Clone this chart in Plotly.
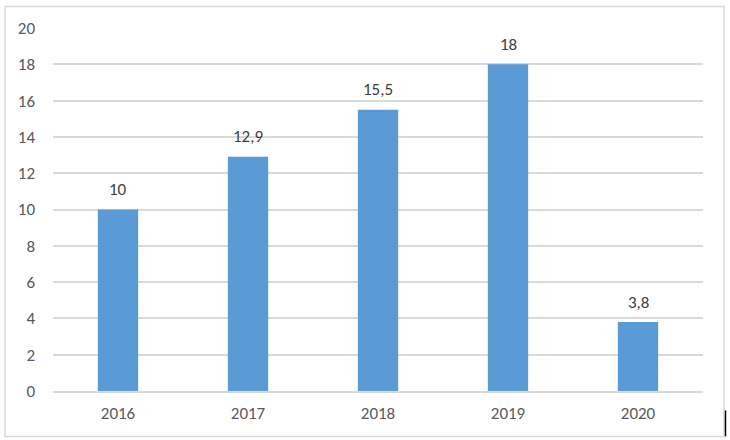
import plotly.graph_objects as go

years = ["2016", "2017", "2018", "2019", "2020"]
values = [10, 12.9, 15.5, 18, 3.8]
labels = [str(v).replace(".", ",") for v in values]

W, H = 730, 440
L, R, T, B = 53, 27, 27.5, 48.5
pw, ph = W - L - R, H - T - B

def px_x(x):
    return (x - L) / pw

def px_y(y):
    return (H - B - y) / ph

FAM = "Carlito, Lato, Liberation Sans, sans-serif"
font = dict(family=FAM, size=17, color="#595959")

fig = go.Figure(go.Bar(
    x=years, y=values,
    marker=dict(color="#5B9BD5", line=dict(width=0)),
    hoverinfo="skip",
))

for i, (v, lab) in enumerate(zip(values, labels)):
    fig.add_annotation(x=i, y=v, text=lab, showarrow=False, yshift=20,
                       yanchor="middle", font=dict(family=FAM, size=17, color="#404040"))

fig.update_layout(
    width=W, height=H,
    margin=dict(l=L, r=R, t=T, b=B),
    paper_bgcolor="white", plot_bgcolor="white",
    bargap=0.69,
    font=font,
    showlegend=False,
    xaxis=dict(type="category", range=[-0.5, len(years) - 0.5], showgrid=False, showline=True,
               linecolor="#D9D9D9", linewidth=1.5,
               ticks="", tickfont=font, ticklabelstandoff=6),
    yaxis=dict(range=[0, 20], dtick=2, showgrid=True, gridcolor="#D9D9D9", gridwidth=1.5,
               zeroline=False, ticks="", ticklabelstandoff=17, tickfont=font),
    shapes=[
        dict(type="rect", xref="paper", yref="paper",
             x0=px_x(5), x1=px_x(724), y0=px_y(437), y1=px_y(6),
             line=dict(color="#D9D9D9", width=1.5), layer="below"),
        dict(type="line", xref="paper", yref="paper",
             x0=px_x(725.5), x1=px_x(725.5), y0=px_y(437), y1=px_y(411),
             line=dict(color="#000000", width=1.5)),
    ],
)

fig.write_html("out.html", config={"displayModeBar": False},
               post_script="document.body.style.margin='0';document.body.style.overflow='hidden';")
